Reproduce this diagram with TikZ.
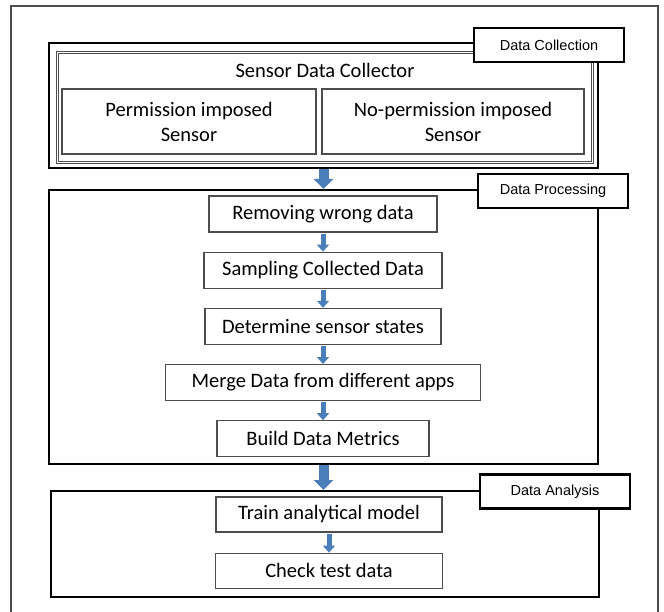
\documentclass[tikz,border=0pt]{standalone}
\usepackage{fontspec}
\setmainfont{Carlito}
\newfontfamily\tagfont{Liberation Sans}
\usetikzlibrary{positioning, arrows.meta}
\definecolor{arrowblue}{HTML}{4A7EBB}
\definecolor{boxgray}{HTML}{4D4D4D}
\tikzstyle{process} = [rectangle, minimum height=36pt, text centered, draw=boxgray, line width=1.2pt, font=\fontsize{20.5}{25}\selectfont, inner sep=0pt]
\tikzstyle{section} = [rectangle, draw=black, line width=2pt]
\tikzstyle{tag} = [rectangle, draw=black, line width=2.5pt, fill=white, minimum width=150pt, minimum height=34pt, font=\tagfont\fontsize{14.5}{17}\selectfont]
\tikzstyle{arrow} = [line width=5pt, draw=arrowblue, -{Triangle[width=12pt,length=7pt]}, shorten <=1pt]
\tikzstyle{bigarrow} = [line width=10pt, draw=arrowblue, -{Triangle[width=19pt,length=10pt]}]

\begin{document}
\begin{tikzpicture}[x=1pt, y=1pt, node distance=19pt]
    \useasboundingbox (0,0) rectangle (664,-612);
    \node (frame) [draw=boxgray, line width=1.5pt, minimum width=647pt, minimum height=610pt] at (334.5,-311) {};

    % data collection
    \node (over1) [section, minimum width=549pt, minimum height=125pt] at (323.5,-105.5) {};
    \node (inner1) [rectangle, draw=boxgray, double, double distance=1.5pt, line width=0.8pt, minimum width=535pt, minimum height=110pt] at (325,-107.5) {};
    \node (title1) [font=\fontsize{20.5}{25}\selectfont] at (325,-70) {Sensor Data Collector};
    \node (proc1) [process, minimum width=254pt, minimum height=65pt, align=center] at (189,-121.5) {Permission imposed\\Sensor};
    \node (proc2) [process, minimum width=262pt, minimum height=65pt, align=center] at (453,-121.5) {No-permission imposed\\Sensor};
    \node (tag1) [tag] at ([xshift=-50pt, yshift=-3pt]over1.north east) {Data Collection};

    % data processing
    \node (over2) [section, minimum width=549pt, minimum height=274pt] at (323.5,-327) {};
    \node (tag2) [tag] at ([xshift=-46pt, yshift=-2pt]over2.north east) {Data Processing};
    \node (proc3) [process, minimum width=228pt] at (323,-214) {Removing wrong data};
    \node (proc4) [process, minimum width=238pt, below=of proc3] {Sampling Collected Data};
    \node (proc5) [process, minimum width=236pt, below=of proc4] {Determine sensor states};
    \node (proc6) [process, minimum width=315pt, below=of proc5] {Merge Data from different apps};
    \node (proc7) [process, minimum width=212pt, below=of proc6] {Build Data Metrics};

    % data analysis
    \node (over3) [section, minimum width=548pt, minimum height=106pt] at (325,-544) {};
    \node (tag3) [tag] at ([xshift=-45pt, yshift=-1.5pt]over3.north east) {Data Analysis};
    \node (proc8) [process, minimum width=226pt, minimum height=35pt] at (329,-514.5) {Train analytical model};
    \node (proc9) [process, minimum width=227pt, minimum height=35pt, below=20pt of proc8] {Check test data};

    \draw [bigarrow] (over1)--(over2);
    \draw [bigarrow] (over2.south)--(over2.south |- over3.north);
    \draw [arrow] (proc3)--(proc4);
    \draw [arrow] (proc4)--(proc5);
    \draw [arrow] (proc5)--(proc6);
    \draw [arrow] (proc6)--(proc7);
    \draw [arrow] (proc8)--(proc9);

\end{tikzpicture}
\end{document}
